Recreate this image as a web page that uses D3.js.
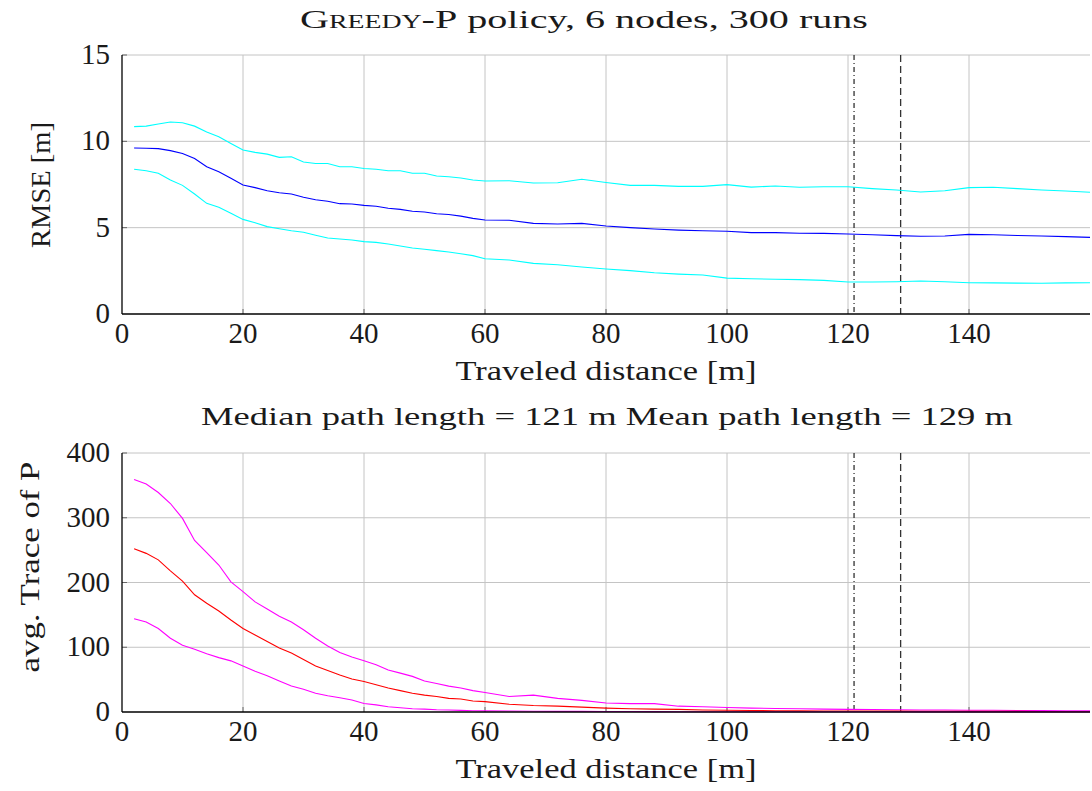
<html><head>
<script src="https://cdnjs.cloudflare.com/ajax/libs/d3/7.8.5/d3.min.js"></script>
<style>
  body { margin: 0; background: #fff; }
  svg text { font-family: "Liberation Serif", "Times New Roman", Times, serif; fill: #1a1a1a; }
  .grid line { stroke: #c4c4c4; stroke-width: 1; }
  .line { fill: none; stroke-width: 1.1px; }
</style>
</head>
<body>
<script>
// traveled distance [m] (sample positions)
var distance = [2,4,6,8,10,12,14,16,18,20,22,24,26,28,30,32,34,36,38,40,42,44,46,48,50,52,54,56,58,
  60,64,68,72,76,80,84,88,92,96,100,104,108,112,116,120,124,128,132,136,140,144,148,152,156,160];

// RMSE [m]
var rmseUpper = [10.85,10.88,11.0,11.12,11.08,10.88,10.54,10.27,9.88,9.5,9.36,9.26,9.07,9.11,8.80,8.72,8.72,8.53,8.53,8.43,8.38,8.30,8.30,8.15,8.15,7.99,7.95,7.88,7.76,
  7.70,7.72,7.59,7.60,7.80,7.62,7.45,7.45,7.39,7.39,7.49,7.35,7.41,7.34,7.37,7.37,7.26,7.18,7.07,7.14,7.32,7.34,7.26,7.18,7.12,7.05];
var rmseMean = [9.61,9.60,9.58,9.46,9.30,9.01,8.53,8.24,7.86,7.47,7.32,7.14,7.02,6.95,6.76,6.62,6.53,6.39,6.37,6.29,6.24,6.12,6.06,5.95,5.91,5.81,5.76,5.67,5.54,
  5.44,5.43,5.25,5.21,5.25,5.10,5.00,4.92,4.86,4.82,4.79,4.71,4.71,4.68,4.67,4.63,4.59,4.54,4.50,4.52,4.61,4.59,4.55,4.52,4.48,4.44];
var rmseLower = [8.38,8.30,8.15,7.76,7.45,6.95,6.41,6.18,5.83,5.48,5.29,5.06,4.94,4.82,4.73,4.56,4.40,4.34,4.29,4.19,4.15,4.05,3.94,3.82,3.75,3.67,3.59,3.49,3.38,
  3.20,3.13,2.93,2.85,2.72,2.61,2.51,2.39,2.31,2.26,2.08,2.04,2.01,1.99,1.95,1.85,1.85,1.87,1.91,1.87,1.81,1.80,1.79,1.78,1.80,1.81];

// avg. trace of P
var traceUpper = [359,352,339,322,299,265,246,227,201,186,170,159,148,139,127,114,102,92,85,79,73,65,60,55,48,44,40,37,33,
  30,24,26,21,18,14,13,13,9,8,7,6,5.5,5,4.5,4,3.8,3.5,3.2,3,2.8,2.6,2.4,2.2,2,2];
var traceMean = [252,245,235,218,202,181,168,156,142,129,119,109,99,91,81,71,64,57,51,47,42,37,33,29,26,24,21,20,17,
  16,12,10,9,7.5,6,5,4.5,4,3,2.6,2.3,2,1.8,1.6,1.5,1.4,1.3,1.2,1.1,1,0.9,0.9,0.8,0.8,0.8];
var traceLower = [144,139,129,114,103,97,90,84,79,71,63,56,48,40,35,29,25,22,18.5,13,11,8,6.6,5,4.5,3.5,3,2.5,2,
  1.8,1.5,1.2,1,0.9,0.8,0.7,0.6,0.5,0.5,0.4,0.4,0.4,0.3,0.3,0.3,0.3,0.3,0.2,0.2,0.2,0.2,0.2,0.2,0.2,0.2];

var xTicks = [0,20,40,60,80,100,120,140];
var rmseTicks = [0,5,10,15];
var traceTicks = [0,100,200,300,400];
var medianLen = 121, meanLen = 128.7;

var W = 1092, H = 791;
var svg = d3.select("body").append("svg").attr("width", W).attr("height", H);

var x = d3.scaleLinear().domain([0,160]).range([122,1090]);

function panel(top, bottom, yDomain, yTicks, series, colors, yLabel, yLabelX, yLabelY, yLabelLen) {
  var y = d3.scaleLinear().domain(yDomain).range([bottom, top]);
  var g = svg.append("g");

  // grid
  g.append("g").attr("class","grid").selectAll("line").data(xTicks.slice(1)).enter().append("line")
    .attr("x1", function(d){ return x(d); }).attr("x2", function(d){ return x(d); })
    .attr("y1", top).attr("y2", bottom);
  g.append("g").attr("class","grid").selectAll("line").data(yTicks.slice(1)).enter().append("line")
    .attr("x1", x(0)).attr("x2", x(160))
    .attr("y1", function(d){ return y(d); }).attr("y2", function(d){ return y(d); });

  // inward tick marks
  g.selectAll(".xt").data(xTicks.slice(1)).enter().append("line")
    .attr("x1", function(d){ return x(d); }).attr("x2", function(d){ return x(d); })
    .attr("y1", bottom).attr("y2", bottom - 5).attr("stroke", "#666").attr("stroke-width", 1);
  g.selectAll(".yt").data(yTicks.slice(1)).enter().append("line")
    .attr("x1", x(0)).attr("x2", x(0) + 5)
    .attr("y1", function(d){ return y(d); }).attr("y2", function(d){ return y(d); })
    .attr("stroke", "#666").attr("stroke-width", 1);

  // median / mean markers
  g.append("line").attr("x1", x(medianLen)).attr("x2", x(medianLen)).attr("y1", top).attr("y2", bottom)
    .attr("stroke", "#333").attr("stroke-width", 1.3).attr("stroke-dasharray", "5,3,1,3");
  g.append("line").attr("x1", x(meanLen)).attr("x2", x(meanLen)).attr("y1", top).attr("y2", bottom)
    .attr("stroke", "#333").attr("stroke-width", 1.3).attr("stroke-dasharray", "7,4");

  // data lines
  var line = d3.line().x(function(d, i){ return x(distance[i]); }).y(function(d){ return y(d); });
  series.forEach(function(s, i) {
    g.append("path").datum(s).attr("class","line").attr("stroke", colors[i]).attr("d", line);
  });

  // axes lines
  g.append("line").attr("x1", x(0)).attr("x2", x(0)).attr("y1", top).attr("y2", bottom)
    .attr("stroke", "#000").attr("stroke-width", 1.3);
  g.append("line").attr("x1", x(0)).attr("x2", x(160)).attr("y1", bottom).attr("y2", bottom)
    .attr("stroke", "#000").attr("stroke-width", 1.3);

  // tick labels
  g.selectAll(".xl").data(xTicks).enter().append("text")
    .attr("x", function(d){ return x(d); }).attr("y", bottom + 29)
    .attr("text-anchor", "middle").style("font-size", "29px").text(function(d){ return d; });
  g.selectAll(".yl").data(yTicks).enter().append("text")
    .attr("x", 110).attr("y", function(d){ return y(d) + 9; })
    .attr("text-anchor", "end").style("font-size", "29px").text(function(d){ return d; });

  // axis labels
  g.append("text").attr("x", 606).attr("y", bottom + 66).attr("text-anchor", "middle")
    .style("font-size", "28px").attr("textLength", 301).attr("lengthAdjust", "spacingAndGlyphs")
    .text("Traveled distance [m]");
  g.append("text").attr("transform", "translate(" + yLabelX + "," + yLabelY + ") rotate(-90)")
    .attr("text-anchor", "middle").style("font-size", "28px")
    .attr("textLength", yLabelLen).attr("lengthAdjust", "spacingAndGlyphs")
    .text(yLabel);
}

panel(55, 314, [0,15], rmseTicks, [rmseUpper, rmseMean, rmseLower], ["#00ffff","#0000ff","#00ffff"], "RMSE [m]", 50, 185, 126);
panel(453, 712, [0,400], traceTicks, [traceUpper, traceMean, traceLower], ["#ff00ff","#ff0000","#ff00ff"], "avg. Trace of P", 39, 567, 211);

// titles
var t = svg.append("text").attr("x", 584).attr("y", 28).attr("text-anchor", "middle")
  .style("font-size", "26px").attr("textLength", 568).attr("lengthAdjust", "spacingAndGlyphs");
t.append("tspan").style("font-variant", "small-caps").text("Greedy-P");
t.append("tspan").text(" policy, 6 nodes, 300 runs");

svg.append("text").attr("x", 607).attr("y", 425).attr("text-anchor", "middle")
  .style("font-size", "26px").attr("textLength", 812).attr("lengthAdjust", "spacingAndGlyphs")
  .text("Median path length = " + medianLen + " m Mean path length = " + Math.round(meanLen) + " m");
</script>
</body></html>
